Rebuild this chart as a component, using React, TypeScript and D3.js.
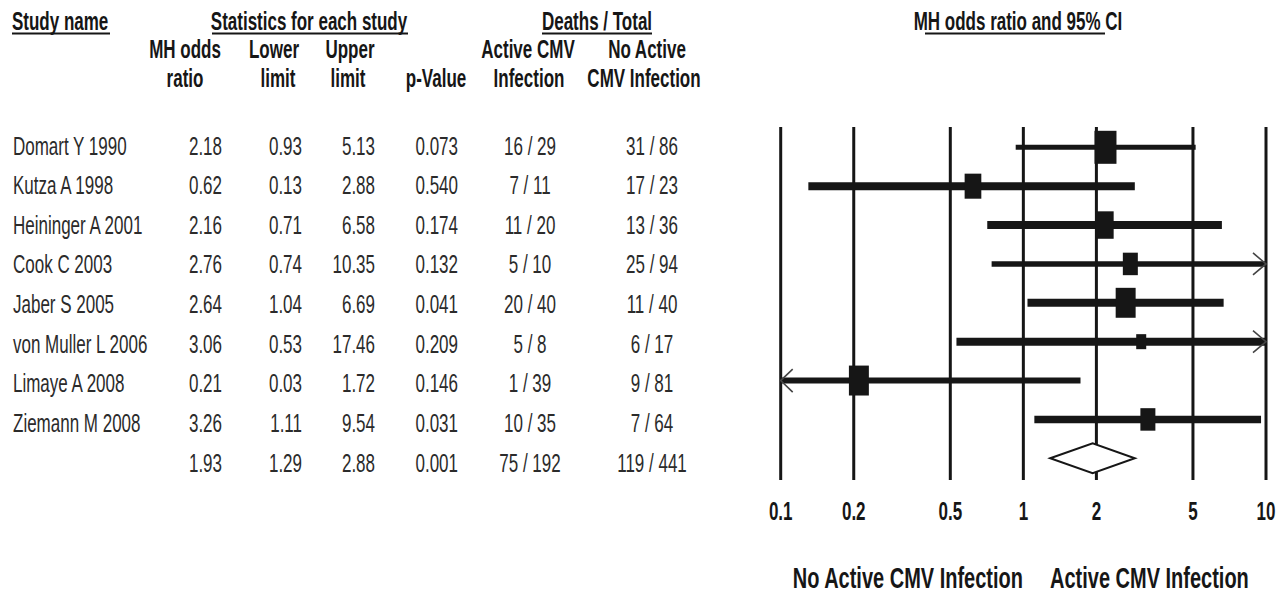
import React from 'react';
import * as d3 from 'd3';

// Studies in the meta-analysis (Mantel-Haenszel odds ratios)
const studies = [
  'Domart Y 1990',
  'Kutza A 1998',
  'Heininger A 2001',
  'Cook C 2003',
  'Jaber S 2005',
  'von Muller L 2006',
  'Limaye A 2008',
  'Ziemann M 2008',
];
const oddsRatio = [2.18, 0.62, 2.16, 2.76, 2.64, 3.06, 0.21, 3.26];
const lowerLimit = [0.93, 0.13, 0.71, 0.74, 1.04, 0.53, 0.03, 1.11];
const upperLimit = [5.13, 2.88, 6.58, 10.35, 6.69, 17.46, 1.72, 9.54];
const pValue = [0.073, 0.54, 0.174, 0.132, 0.041, 0.209, 0.146, 0.031];
const activeDeaths = [16, 7, 11, 5, 20, 5, 1, 10];
const activeTotal = [29, 11, 20, 10, 40, 8, 39, 35];
const noActiveDeaths = [31, 17, 13, 25, 11, 6, 9, 7];
const noActiveTotal = [86, 23, 36, 94, 40, 17, 81, 64];
// Relative weight (%) of each study, drives the box size
const relativeWeight = [19.8, 11.4, 13.7, 9.2, 16.3, 4.1, 16.3, 9.2];

// Pooled estimate
const pooledOR = 1.93;
const pooledLower = 1.29;
const pooledUpper = 2.88;
const pooledP = 0.001;
const pooledActive = [75, 192];
const pooledNoActive = [119, 441];

// Axis tick values of the forest plot
const axisTicks = [0.1, 0.2, 0.5, 1, 2, 5, 10];

// Styling
const FONT = '"Liberation Sans", Arial, Helvetica, sans-serif';
const TXT = '#2b2b2b';
const INK = '#161616';
const STRETCH = 1.5; // vertical stretch applied to the lettering
const ciStroke = [5, 8, 8, 5.5, 8, 8, 6, 7.5];

type TProps = {
  x: number;
  y: number;
  anchor?: 'start' | 'middle' | 'end';
  bold?: boolean;
  size?: number;
  fill?: string;
  children: React.ReactNode;
};

const T = ({ x, y, anchor = 'start', bold = false, size = 17, fill = TXT, children }: TProps) => (
  <text
    transform={`translate(${x},${y}) scale(1,${STRETCH})`}
    textAnchor={anchor}
    fontWeight={bold ? 'bold' : 'normal'}
    fontSize={size}
    fontFamily={FONT}
    fill={fill}
  >
    {children}
  </text>
);

export default function App() {
  const width = 1278;
  const height = 600;

  const rowIdx = d3.range(studies.length + 1);
  // Vertical positions of the table text rows and of the plot rows
  const tableY = d3.scalePoint<number>().domain(rowIdx).range([145, 462]);
  const plotY = d3.scalePoint<number>().domain(rowIdx).range([147.3, 458.3]);

  const x = d3.scaleLog().domain([0.1, 10]).range([780.7, 1266]);
  const [dMin, dMax] = x.domain();

  const fmt2 = d3.format('.2f');
  const fmt3 = d3.format('.3f');
  const base = 9.5; // centre-to-baseline offset for stretched text

  const boxW = d3.scaleSqrt().domain([0, d3.max(relativeWeight) as number]).range([0, 22]);

  const colOR = 222;
  const colLo = 302;
  const colHi = 375;
  const colP = 458;
  const colAct = 530;
  const colNo = 652;

  const gridTop = 127;
  const gridBottom = 480;

  return (
    <svg
      width={width}
      height={height}
      style={{ position: 'absolute', left: 0, top: 0, background: '#fff' }}
    >
      <rect x={0} y={0} width={width} height={height} fill="#fff" />

      {/* Group headers */}
      <T x={12} y={30} bold fill={INK}>Study name</T>
      <line x1={12} x2={110} y1={33.5} y2={33.5} stroke={INK} strokeWidth={2} />
      <T x={309} y={30} anchor="middle" bold fill={INK}>Statistics for each study</T>
      <line x1={212} x2={408} y1={33.5} y2={33.5} stroke={INK} strokeWidth={2} />
      <T x={597} y={30} anchor="middle" bold fill={INK}>Deaths / Total</T>
      <line x1={542} x2={652} y1={33.5} y2={33.5} stroke={INK} strokeWidth={2} />
      <T x={1018} y={30} anchor="middle" bold fill={INK}>MH odds ratio and 95% CI</T>
      <line x1={925} x2={1105} y1={33.5} y2={33.5} stroke={INK} strokeWidth={2} />

      {/* Column headers */}
      <T x={185} y={58} anchor="middle" bold fill={INK}>MH odds</T>
      <T x={185} y={87} anchor="middle" bold fill={INK}>ratio</T>
      <T x={274} y={58} anchor="middle" bold fill={INK}>Lower</T>
      <T x={278} y={87} anchor="middle" bold fill={INK}>limit</T>
      <T x={350} y={58} anchor="middle" bold fill={INK}>Upper</T>
      <T x={348} y={87} anchor="middle" bold fill={INK}>limit</T>
      <T x={436} y={87} anchor="middle" bold fill={INK}>p-Value</T>
      <T x={528} y={58} anchor="middle" bold fill={INK}>Active CMV</T>
      <T x={529} y={87} anchor="middle" bold fill={INK}>Infection</T>
      <T x={647} y={58} anchor="middle" bold fill={INK}>No Active</T>
      <T x={644} y={87} anchor="middle" bold fill={INK}>CMV Infection</T>

      {/* Study rows */}
      {studies.map((name, i) => {
        const y = (tableY(i) as number) + base;
        return (
          <g key={name}>
            <T x={13} y={y}>{name}</T>
            <T x={colOR} y={y} anchor="end">{fmt2(oddsRatio[i])}</T>
            <T x={colLo} y={y} anchor="end">{fmt2(lowerLimit[i])}</T>
            <T x={colHi} y={y} anchor="end">{fmt2(upperLimit[i])}</T>
            <T x={colP} y={y} anchor="end">{fmt3(pValue[i])}</T>
            <T x={colAct} y={y} anchor="middle">{`${activeDeaths[i]} / ${activeTotal[i]}`}</T>
            <T x={colNo} y={y} anchor="middle">{`${noActiveDeaths[i]} / ${noActiveTotal[i]}`}</T>
          </g>
        );
      })}

      {/* Pooled row */}
      {(() => {
        const y = (tableY(studies.length) as number) + base;
        return (
          <g>
            <T x={colOR} y={y} anchor="end">{fmt2(pooledOR)}</T>
            <T x={colLo} y={y} anchor="end">{fmt2(pooledLower)}</T>
            <T x={colHi} y={y} anchor="end">{fmt2(pooledUpper)}</T>
            <T x={colP} y={y} anchor="end">{fmt3(pooledP)}</T>
            <T x={colAct} y={y} anchor="middle">{`${pooledActive[0]} / ${pooledActive[1]}`}</T>
            <T x={colNo} y={y} anchor="middle">{`${pooledNoActive[0]} / ${pooledNoActive[1]}`}</T>
          </g>
        );
      })()}

      {/* Vertical reference lines */}
      {axisTicks.map((t) => (
        <line
          key={`g${t}`}
          x1={x(t)}
          x2={x(t)}
          y1={gridTop}
          y2={gridBottom}
          stroke={INK}
          strokeWidth={3}
        />
      ))}

      {/* Confidence intervals and boxes */}
      {studies.map((name, i) => {
        const yc = plotY(i) as number;
        const lo = Math.max(lowerLimit[i], dMin);
        const hi = Math.min(upperLimit[i], dMax);
        const x1 = x(lo);
        const x2 = x(hi);
        const w = boxW(relativeWeight[i]);
        const h = w * STRETCH;
        const cx = x(oddsRatio[i]);
        return (
          <g key={`ci${name}`}>
            <line x1={x1} x2={x2} y1={yc} y2={yc} stroke={INK} strokeWidth={ciStroke[i]} />
            {upperLimit[i] > dMax && (
              <polyline
                points={`${x2 - 13},${yc - 11} ${x2},${yc} ${x2 - 13},${yc + 11}`}
                fill="none"
                stroke="#444"
                strokeWidth={1.6}
              />
            )}
            {lowerLimit[i] < dMin && (
              <polyline
                points={`${x1 + 12},${yc - 11.5} ${x1},${yc} ${x1 + 12},${yc + 11.5}`}
                fill="none"
                stroke="#444"
                strokeWidth={1.6}
              />
            )}
            <rect x={cx - w / 2} y={yc - h / 2} width={w} height={h} fill={INK} />
          </g>
        );
      })}

      {/* Pooled diamond */}
      {(() => {
        const yc = plotY(studies.length) as number;
        const pts = [
          [x(pooledLower), yc],
          [x(pooledOR), yc - 15],
          [x(pooledUpper), yc],
          [x(pooledOR), yc + 15],
        ]
          .map((p) => p.join(','))
          .join(' ');
        return <polygon points={pts} fill="#fff" stroke={INK} strokeWidth={2} />;
      })()}

      {/* Axis tick labels */}
      {axisTicks.map((t) => (
        <T key={`l${t}`} x={x(t)} y={520} anchor="middle" bold fill={INK}>
          {String(t)}
        </T>
      ))}

      {/* Direction labels */}
      <T x={1023} y={588} anchor="end" bold size={20} fill={INK}>No Active CMV Infection</T>
      <T x={1050} y={588} anchor="start" bold size={20} fill={INK}>Active CMV Infection</T>
    </svg>
  );
}
